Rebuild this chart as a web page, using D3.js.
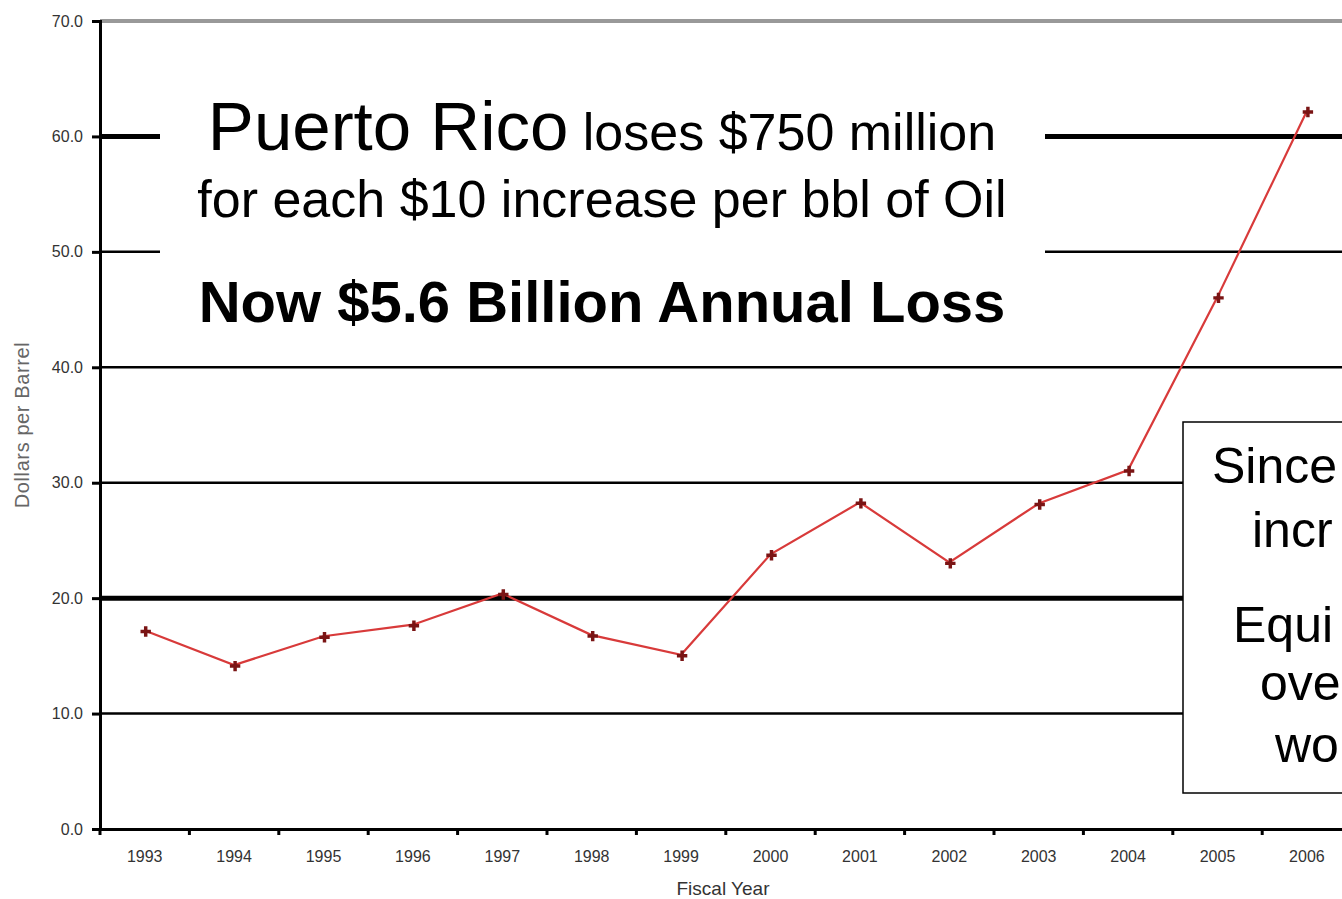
<!DOCTYPE html>
<html>
<head>
<meta charset="utf-8">
<script src="https://cdn.jsdelivr.net/npm/d3@7"></script>
<style>
  html, body { margin: 0; padding: 0; background: #fff; overflow: hidden; }
  svg { display: block; font-family: "Liberation Sans", Arial, sans-serif; }
</style>
</head>
<body>
<svg id="chart" width="1342" height="899"></svg>
<script>
const years = ["1993","1994","1995","1996","1997","1998","1999","2000","2001","2002","2003","2004","2005","2006"];
const prices = [17.2, 14.2, 16.7, 17.7, 20.4, 16.8, 15.1, 23.8, 28.3, 23.1, 28.2, 31.1, 46.1, 62.2];
const yTicks = [0, 10, 20, 30, 40, 50, 60, 70];
const yTickLabels = ["0.0", "10.0", "20.0", "30.0", "40.0", "50.0", "60.0", "70.0"];
const thickGrid = [20, 60];
const titleMain = "Puerto Rico";
const titleRest = " loses $750 million";
const titleLine2 = "for each $10 increase per bbl of Oil";
const titleLine3 = "Now $5.6 Billion Annual Loss";
// only the part of the side note that is visible inside the frame
const sideLines = ["Since", "incr", "Equi", "ove", "wo"];

(function () {
const svg = d3.select("#chart");
const W = 1342, H = 899;
const mLeft = 100, mBottom = 829, mTop = 21;

const x = d3.scaleBand().domain(years).range([mLeft, mLeft + 14 * 89.4]).padding(0);
const y = d3.scaleLinear().domain([0, 70]).range([mBottom, mTop]);

// gridlines
const grid = svg.append("g");
grid.selectAll("line").data(yTicks.filter(t => t > 0)).join("line")
  .attr("x1", mLeft).attr("x2", W + 20)
  .attr("y1", d => y(d)).attr("y2", d => y(d))
  .attr("stroke", d => d === 70 ? "#999" : "#000")
  .attr("stroke-width", d => d === 70 ? 4 : (thickGrid.includes(d) ? 5 : 2.5));

// y axis
const yAxis = d3.axisLeft(y).tickValues(yTicks)
  .tickFormat((d, i) => yTickLabels[i]).tickSize(8).tickPadding(9);
const gy = svg.append("g").attr("transform", `translate(${mLeft},0)`).call(yAxis);
gy.select(".domain").attr("stroke", "#000").attr("stroke-width", 3);
gy.selectAll(".tick line").attr("stroke", "#000").attr("stroke-width", 3);
gy.selectAll(".tick text").attr("font-size", 16).attr("fill", "#333")
  .attr("font-family", "Liberation Sans, Arial, sans-serif");

// x axis
const xAxis = d3.axisBottom(x).tickSize(0).tickPadding(22);
const gx = svg.append("g").attr("transform", `translate(0,${mBottom})`).call(xAxis);
gx.select(".domain").attr("stroke", "#000").attr("stroke-width", 3);
gx.selectAll(".tick text").attr("font-size", 16).attr("fill", "#333")
  .attr("font-family", "Liberation Sans, Arial, sans-serif");
gx.append("g").selectAll("rect").data(years).join("rect")
  .attr("x", d => x(d) - 1.5).attr("y", 0).attr("width", 3).attr("height", 6)
  .attr("fill", "#000");

// axis titles
svg.append("text").attr("x", 723).attr("y", 895).attr("text-anchor", "middle")
  .attr("font-size", 19).attr("fill", "#333").text("Fiscal Year");
svg.append("text").attr("transform", "translate(29,425) rotate(-90)")
  .attr("text-anchor", "middle").attr("font-size", 20).attr("fill", "#666")
  .attr("letter-spacing", 0.6)
  .text("Dollars per Barrel");

// data line
const line = d3.line().x((d, i) => x(years[i]) + x.bandwidth() / 2).y(d => y(d));
svg.append("path").datum(prices).attr("d", line)
  .attr("fill", "none").attr("stroke", "#d83a3a").attr("stroke-width", 2.2);
svg.append("g").selectAll("path").data(prices).join("path")
  .attr("transform", (d, i) => `translate(${x(years[i]) + x.bandwidth() / 2 + 1},${y(d) + 1})`)
  .attr("d", d3.symbol().type(d3.symbolCross).size(60))
  .attr("fill", "#7a1414");

// top annotation box
svg.append("rect").attr("x", 160).attr("y", 62).attr("width", 885).attr("height", 286)
  .attr("fill", "#fff");
const t1 = svg.append("text").attr("x", 602).attr("y", 150).attr("text-anchor", "middle").attr("fill", "#000");
t1.append("tspan").attr("font-size", 69).text(titleMain);
t1.append("tspan").attr("font-size", 52).text(titleRest);
svg.append("text").attr("x", 602).attr("y", 217).attr("text-anchor", "middle")
  .attr("font-size", 52).attr("fill", "#000").text(titleLine2);
svg.append("text").attr("x", 602).attr("y", 322).attr("text-anchor", "middle")
  .attr("font-size", 58).attr("font-weight", "bold").attr("fill", "#000").text(titleLine3);

// side annotation box (its frame runs past the right edge)
svg.append("rect").attr("x", 1183).attr("y", 422).attr("width", 300).attr("height", 371)
  .attr("fill", "#fff").attr("stroke", "#000").attr("stroke-width", 1.5);
const sideX = [1212, 1252, 1233, 1260, 1275];
const sideY = [483, 547, 642, 700, 762];
svg.append("g").selectAll("text").data(sideLines).join("text")
  .attr("x", (d, i) => sideX[i]).attr("y", (d, i) => sideY[i])
  .attr("font-size", 50).attr("fill", "#000").text(d => d);
})();
</script>
</body>
</html>
